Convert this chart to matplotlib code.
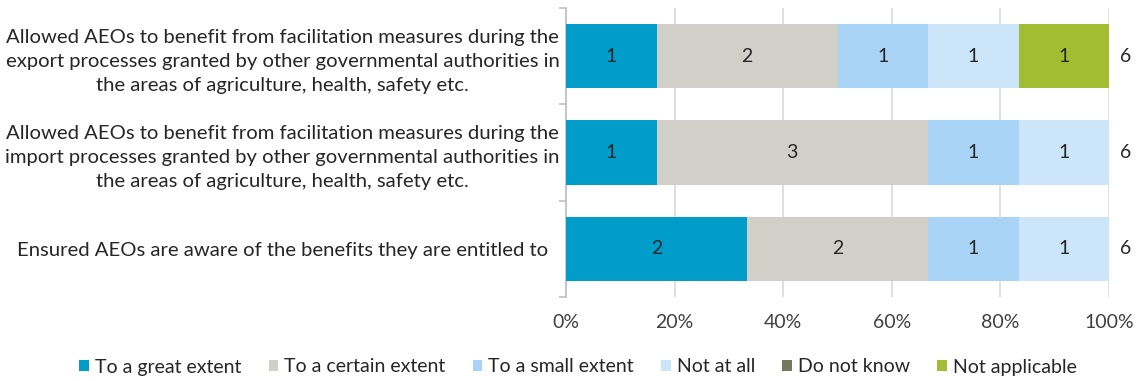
import matplotlib.pyplot as plt
import numpy as np

plt.rcParams['font.family'] = ['Lato', 'DejaVu Sans']

categories = [
    'Allowed AEOs to benefit from facilitation measures during the\n'
    'export processes granted by other governmental authorities in\n'
    'the areas of agriculture, health, safety etc.',
    'Allowed AEOs to benefit from facilitation measures during the\n'
    'import processes granted by other governmental authorities in\n'
    'the areas of agriculture, health, safety etc.',
    'Ensured AEOs are aware of the benefits they are entitled to',
]
series_names = ['To a great extent', 'To a certain extent', 'To a small extent',
                'Not at all', 'Do not know', 'Not applicable']
great = [1, 1, 2]
certain = [2, 3, 2]
small = [1, 1, 1]
not_at_all = [1, 1, 1]
dont_know = [0, 0, 0]
not_applicable = [1, 0, 0]
colors = ['#009DCB', '#D0D0C8', '#A9D4F5', '#CCE5F8', '#76775F', '#A2BD32']

series = [great, certain, small, not_at_all, dont_know, not_applicable]
totals = np.sum(series, axis=0)

fig = plt.figure(figsize=(11.4, 3.81), dpi=100)
ax = fig.add_axes([566 / 1140, 1 - 297 / 381, (1109 - 566) / 1140, (297 - 8) / 381])

y = np.arange(len(categories))
left = np.zeros(len(categories))
for name, vals, col in zip(series_names, series, colors):
    frac = np.array(vals) / totals
    ax.barh(y, frac, left=left, height=0.67, color=col, label=name, zorder=3)
    for yi, v, l, f in zip(y, vals, left, frac):
        if v > 0:
            ax.text(l + f / 2, yi, str(v), ha='center', va='center',
                    fontsize=14, color='#262626', zorder=4)
    left += frac

for yi, t in zip(y, totals):
    ax.text(1.03, yi, str(t), ha='center', va='center', fontsize=14,
            color='#262626', transform=ax.get_yaxis_transform())

ax.set_xlim(0, 1)
ax.set_ylim(len(categories) - 0.5, -0.5)
ax.set_xticks(np.arange(0, 1.01, 0.2))
ax.set_xticklabels([f'{int(v * 100)}%' for v in np.arange(0, 1.01, 0.2)],
                   fontsize=14, color='#404040')
ax.tick_params(axis='x', length=0, pad=12)
ax.set_yticks(y)
ax.set_yticklabels(categories, fontsize=14.6, color='#262626', ha='center',
                   linespacing=1.5)
ax.tick_params(axis='y', which='major', length=0, pad=204)
ax.set_yticks(np.arange(-0.5, len(categories)), minor=True)
ax.tick_params(axis='y', which='minor', length=5, color='#BFBFBF', width=1.2)

ax.grid(axis='x', color='#D9D9D9', linewidth=1.2, zorder=0)
for s in ['top', 'right', 'bottom']:
    ax.spines[s].set_visible(False)
ax.spines['left'].set_color('#BFBFBF')
ax.spines['left'].set_linewidth(1.2)

fig.legend(loc='center', bbox_to_anchor=(578 / 1140, 1 - 367 / 381), ncol=6,
           frameon=False, fontsize=14, handlelength=0.5, handleheight=0.5,
           handletextpad=0.3, columnspacing=1.4, labelcolor='#262626')

fig.savefig('out.png', dpi=100)
